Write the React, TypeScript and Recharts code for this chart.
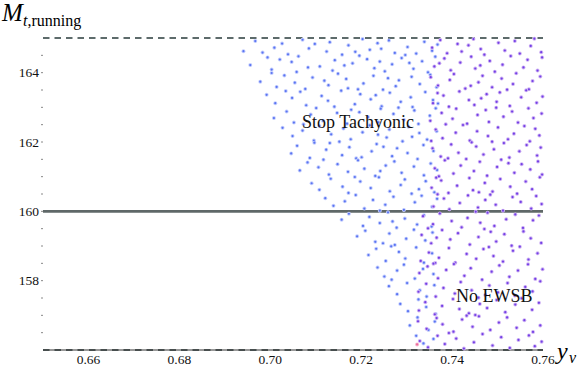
import { ScatterChart, Scatter, XAxis, YAxis, ReferenceLine } from 'recharts'

// y_nu vs running top mass; blue = stop tachyonic, purple = no EWSB
const xTicks = [0.66, 0.68, 0.7, 0.72, 0.74, 0.76]
const yTicks = [156.5, 157, 157.5, 158, 158.5, 159, 159.5, 160, 160.5, 161, 161.5, 162, 162.5, 163, 163.5, 164, 164.5]
const yLabelled = [158, 160, 162, 164]
const dashedLevels = [156, 165]
const solidLevel = 160

const tachyonic: [number, number][] = [
  [.6941,164.62],[.6967,164.91],[.6983,164.58],[.7026,164.84],[.7039,164.53],[.7071,164.95],[.7085,164.70],[.7124,164.61],[.7131,164.88],[.7172,164.79],[.7158,164.52],[.7203,164.97],[.7219,164.66],[.7236,164.85],[.7274,164.57],[.7261,164.93],[.7302,164.74],[.7297,164.51],[.7339,164.89],[.7356,164.63],[.7368,164.81],[.7009,164.72],[.7098,164.83],[.7187,164.60],[.7321,164.55],[.7244,164.69],
  [.6956,164.22],[.6994,164.44],[.7003,164.09],[.7047,164.31],[.7058,164.02],[.7062,164.47],[.7109,164.18],[.7142,164.36],[.7137,164.06],[.7181,164.27],[.7196,164.49],[.7229,164.13],[.7213,164.39],[.7268,164.24],[.7252,164.04],[.7289,164.42],[.7315,164.11],[.7334,164.33],[.7347,164.01],[.7363,164.46],[.7021,164.38],[.7083,164.15],[.7163,164.21],[.7241,164.32],[.7306,164.28],
  [.6978,163.74],[.7014,163.59],[.7031,163.92],[.7054,163.71],[.7077,163.53],[.7093,163.86],[.7128,163.64],[.7149,163.97],[.7171,163.55],[.7167,163.82],[.7205,163.69],[.7227,163.91],[.7248,163.51],[.7283,163.78],[.7276,163.61],[.7311,163.88],[.7329,163.67],[.7352,163.94],[.7366,163.58],[.7003,163.99],[.7119,163.77],[.7193,163.52],[.7259,163.84],
  [.6992,163.36],[.7011,163.12],[.7048,163.27],[.7066,163.45],[.7079,163.06],[.7113,163.33],[.7127,163.19],[.7156,163.48],[.7186,163.09],[.7198,163.38],[.7221,163.23],[.7245,163.03],[.7263,163.42],[.7287,163.16],[.7309,163.29],[.7313,163.01],[.7341,163.44],[.7358,163.21],[.7034,163.47],[.7141,163.02],[.7232,163.35],[.7369,163.11],
  [.7008,162.69],[.7036,162.88],[.7052,162.56],[.7089,162.79],[.7101,162.98],[.7116,162.61],[.7147,162.84],[.7169,162.53],[.7178,162.93],[.7215,162.72],[.7238,162.57],[.7243,162.96],[.7271,162.81],[.7294,162.64],[.7317,162.91],[.7326,162.52],[.7351,162.76],[.7364,162.97],[.7073,162.51],[.7196,162.86],[.7282,162.99],
  [.7027,162.41],[.7049,162.17],[.7071,162.33],[.7096,162.04],[.7108,162.46],[.7134,162.22],[.7161,162.39],[.7177,162.08],[.7203,162.28],[.7219,162.48],[.7256,162.13],[.7262,162.36],[.7291,162.02],[.7304,162.44],[.7328,162.26],[.7345,162.07],[.7366,162.31],[.7152,162.01],[.7237,162.21],[.7312,162.15],
  [.7046,161.67],[.7059,161.89],[.7087,161.54],[.7123,161.78],[.7131,161.97],[.7158,161.62],[.7174,161.85],[.7201,161.56],[.7223,161.73],[.7234,161.94],[.7268,161.59],[.7279,161.82],[.7302,161.68],[.7324,161.51],[.7337,161.91],[.7359,161.74],[.7097,161.98],[.7189,161.53],[.7249,161.86],
  [.7065,161.18],[.7082,161.41],[.7106,161.27],[.7129,161.06],[.7148,161.36],[.7171,161.14],[.7193,161.47],[.7207,161.23],[.7231,161.02],[.7254,161.32],[.7273,161.44],[.7289,161.11],[.7316,161.29],[.7338,161.04],[.7353,161.38],[.7367,161.19],[.7117,161.49],[.7242,161.16],
  [.7091,160.81],[.7108,160.62],[.7133,160.94],[.7159,160.71],[.7172,160.53],[.7198,160.86],[.7221,160.67],[.7239,160.98],[.7263,160.58],[.7287,160.76],[.7296,160.92],[.7327,160.64],[.7342,160.87],[.7361,160.55],[.7186,160.99],[.7311,160.51],
  [.7121,160.38],[.7139,160.16],[.7164,160.29],[.7188,160.47],[.7207,160.08],[.7226,160.33],[.7253,160.19],[.7271,160.42],[.7294,160.04],[.7318,160.26],[.7333,160.45],[.7356,160.13],[.7367,160.36],[.7241,160.02],
  [.7157,159.76],[.7173,159.93],[.7204,159.58],[.7218,159.84],[.7241,159.66],[.7259,159.97],[.7278,159.53],[.7296,159.79],[.7323,159.62],[.7338,159.89],[.7355,159.56],[.7269,159.71],
  [.7191,159.28],[.7209,159.44],[.7231,159.12],[.7262,159.36],[.7274,159.03],[.7299,159.21],[.7316,159.47],[.7341,159.16],[.7357,159.39],[.7248,159.08],
  [.7216,158.74],[.7233,158.92],[.7254,158.57],[.7283,158.83],[.7297,158.64],[.7321,158.96],[.7338,158.52],[.7356,158.79],[.7266,158.99],
  [.7236,158.38],[.7251,158.12],[.7279,158.29],[.7294,158.46],[.7318,158.06],[.7336,158.34],[.7359,158.19],[.7267,158.03],
  [.7261,157.84],[.7279,157.61],[.7301,157.93],[.7329,157.72],[.7344,157.54],[.7361,157.87],
  [.7286,157.33],[.7303,157.12],[.7326,157.46],[.7343,157.24],[.7364,157.04],
  [.7307,156.71],[.7324,156.94],[.7348,156.58],[.7362,156.82],
  [.7321,156.41],[.7337,156.19],[.7359,156.32],
]

const noEwsb: [number, number][] = [
  [.7356,164.72],[.7374,164.94],[.7389,164.56],[.7412,164.83],[.7421,164.61],[.7447,164.97],[.7463,164.68],[.7471,164.52],[.7502,164.86],[.7516,164.64],[.7538,164.91],[.7549,164.55],[.7573,164.77],[.7581,164.98],[.7596,164.59],[.7436,164.79],
  [.7361,164.18],[.7383,164.41],[.7397,164.07],[.7418,164.29],[.7442,164.46],[.7451,164.12],[.7483,164.34],[.7494,164.03],[.7511,164.23],[.7529,164.48],[.7557,164.15],[.7566,164.37],[.7588,164.06],[.7598,164.44],[.7372,164.27],[.7462,164.21],
  [.7353,163.87],[.7369,163.63],[.7395,163.79],[.7404,163.96],[.7429,163.54],[.7458,163.72],[.7467,163.91],[.7488,163.58],[.7509,163.83],[.7534,163.67],[.7541,163.98],[.7569,163.52],[.7577,163.76],[.7594,163.89],[.7441,163.62],[.7521,163.51],
  [.7358,163.12],[.7381,163.34],[.7393,163.02],[.7416,163.46],[.7437,163.21],[.7449,163.07],[.7476,163.38],[.7498,163.16],[.7505,163.43],[.7527,163.04],[.7552,163.29],[.7563,163.49],[.7586,163.13],[.7599,163.31],[.7368,163.41],[.7464,163.26],
  [.7352,162.61],[.7377,162.84],[.7401,162.67],[.7409,162.96],[.7433,162.53],[.7456,162.78],[.7474,162.92],[.7481,162.58],[.7513,162.73],[.7532,162.88],[.7545,162.56],[.7568,162.97],[.7579,162.69],[.7597,162.82],[.7386,162.51],[.7497,162.99],
  [.7364,162.36],[.7379,162.11],[.7408,162.27],[.7424,162.49],[.7439,162.04],[.7455,162.31],[.7479,162.17],[.7501,162.42],[.7523,162.08],[.7536,162.24],[.7559,162.46],[.7571,162.02],[.7592,162.19],[.7354,162.03],[.7488,162.01],[.7583,162.38],
  [.7357,161.82],[.7375,161.58],[.7398,161.93],[.7414,161.69],[.7431,161.51],[.7453,161.87],[.7469,161.64],[.7492,161.79],[.7514,161.97],[.7526,161.55],[.7548,161.73],[.7564,161.91],[.7587,161.61],[.7595,161.84],[.7443,161.99],[.7391,161.53],
  [.7362,161.24],[.7384,161.47],[.7403,161.09],[.7419,161.32],[.7448,161.16],[.7461,161.43],[.7477,161.03],[.7499,161.28],[.7508,161.49],[.7537,161.11],[.7553,161.36],[.7572,161.21],[.7589,161.44],[.7598,161.06],[.7371,161.01],[.7524,161.39],
  [.7355,160.68],[.7376,160.89],[.7392,160.53],[.7411,160.74],[.7438,160.96],[.7446,160.61],[.7472,160.82],[.7489,160.57],[.7506,160.93],[.7528,160.71],[.7543,160.51],[.7562,160.86],[.7576,160.64],[.7593,160.98],[.7365,160.97],[.7459,160.55],
  [.7359,160.14],[.7382,160.37],[.7394,160.06],[.7417,160.24],[.7435,160.46],[.7457,160.11],[.7473,160.33],[.7496,160.19],[.7512,160.02],[.7533,160.41],[.7551,160.27],[.7574,160.08],[.7585,160.44],[.7597,160.21],[.7368,160.49],[.7484,160.48],
  [.7336,159.86],[.7358,159.63],[.7373,159.94],[.7399,159.72],[.7421,159.54],[.7434,159.81],[.7462,159.67],[.7478,159.96],[.7493,159.58],[.7519,159.77],[.7539,159.91],[.7556,159.52],[.7578,159.74],[.7591,159.88],[.7347,159.51],[.7452,159.99],
  [.7333,159.32],[.7354,159.08],[.7378,159.46],[.7396,159.19],[.7413,159.37],[.7439,159.04],[.7458,159.26],[.7471,159.49],[.7497,159.13],[.7515,159.34],[.7531,159.01],[.7557,159.42],[.7573,159.22],[.7596,159.09],[.7366,159.24],[.7485,159.41],
  [.7331,158.57],[.7349,158.81],[.7371,158.66],[.7393,158.94],[.7407,158.52],[.7432,158.77],[.7453,158.63],[.7469,158.91],[.7491,158.71],[.7512,158.55],[.7534,158.86],[.7549,158.98],[.7568,158.61],[.7588,158.79],[.7363,158.51],[.7481,158.97],
  [.7328,158.22],[.7346,158.41],[.7369,158.07],[.7387,158.31],[.7404,158.48],[.7427,158.14],[.7441,158.36],[.7466,158.03],[.7487,158.26],[.7504,158.44],[.7526,158.11],[.7545,158.29],[.7567,158.47],[.7583,158.05],[.7599,158.33],[.7359,158.49],
  [.7326,157.68],[.7343,157.91],[.7364,157.54],[.7381,157.79],[.7406,157.63],[.7419,157.96],[.7443,157.72],[.7458,157.51],[.7482,157.86],[.7501,157.66],[.7522,157.93],[.7538,157.57],[.7561,157.82],[.7577,157.69],[.7594,157.98],[.7473,157.59],
  [.7327,157.14],[.7341,157.38],[.7362,157.03],[.7378,157.27],[.7402,157.47],[.7416,157.18],[.7437,157.06],[.7461,157.33],[.7477,157.21],[.7498,157.44],[.7517,157.09],[.7539,157.31],[.7553,157.49],[.7576,157.16],[.7591,157.36],[.7451,157.01],
  [.7325,156.83],[.7344,156.61],[.7366,156.92],[.7379,156.74],[.7403,156.53],[.7422,156.88],[.7445,156.67],[.7459,156.97],[.7484,156.58],[.7503,156.79],[.7521,156.94],[.7542,156.64],[.7559,156.86],[.7578,156.52],[.7594,156.71],[.7432,156.99],
  [.7329,156.26],[.7347,156.08],[.7368,156.41],[.7384,156.17],[.7409,156.33],[.7426,156.04],[.7448,156.22],[.7467,156.46],[.7489,156.13],[.7508,156.37],[.7527,156.06],[.7546,156.29],[.7569,156.42],[.7582,156.11],[.7597,156.24],[.7393,156.49],
]

const stray: [number, number][] = [[.7323, 156.16]]

const toPts = (arr: [number, number][]) => arr.map(([x, y]) => ({ x, y }))

const serif = 'Liberation Serif'

function dot(halo: string, core: string) {
  return (p: any) => (
    <g>
      <circle cx={p.cx} cy={p.cy} r={2} fill={halo} />
      <circle cx={p.cx} cy={p.cy} r={1.1} fill={core} />
    </g>
  )
}

export default function App() {
  return (
    <div style={{ position: 'absolute', left: 0, top: 0, width: 581, height: 368, background: '#fff', fontFamily: serif }}>
      <ScatterChart width={581} height={368} margin={{ top: 38, right: 38, bottom: 0, left: 0 }}>
        <XAxis
          type="number"
          dataKey="x"
          domain={[0.65, 0.76]}
          ticks={xTicks}
          interval={0}
          tickFormatter={(v: number) => v.toFixed(2)}
          tickLine={false}
          tickSize={1}
          tickMargin={3}
          height={18}
          axisLine={{ stroke: '#333' }}
          tick={{ fontSize: 13.5, fill: '#111', fontFamily: serif }}
        />
        <YAxis
          type="number"
          dataKey="y"
          domain={[156, 165]}
          ticks={yTicks}
          interval={0}
          width={43}
          axisLine={false}
          tickSize={2}
          tickMargin={2}
          tickLine={{ stroke: '#888' }}
          tickFormatter={(v: number) => (yLabelled.includes(v) ? String(v) : '')}
          tick={{ fontSize: 13.5, fill: '#111', fontFamily: serif }}
        />
        <ReferenceLine y={solidLevel} stroke="#5f6868" strokeWidth={2.6} />
        {dashedLevels.map((lv) => (
          <ReferenceLine key={lv} y={lv} stroke="#5d6b6b" strokeWidth={2.2} strokeDasharray="6.5 5" />
        ))}
        <Scatter data={toPts(tachyonic)} shape={dot('#c4cefd', '#5a74f2')} isAnimationActive={false} />
        <Scatter data={toPts(noEwsb)} shape={dot('#cfb3f3', '#7340e6')} isAnimationActive={false} />
        <Scatter data={toPts(stray)} shape={dot('#f6b8d0', '#ee6a9a')} isAnimationActive={false} />
      </ScatterChart>
      <svg width={581} height={368} style={{ position: 'absolute', left: 0, top: 0, pointerEvents: 'none' }}>
        <text x={2} y={21} fontFamily={serif} fontSize={25} fontStyle="italic" fill="#000">M</text>
        <text x={23} y={26} fontFamily={serif} fontSize={16} fill="#000">
          <tspan fontStyle="italic">t</tspan>
          <tspan>,running</tspan>
        </text>
        <text x={302} y={128} fontFamily={serif} fontSize={18} fill="#111">Stop Tachyonic</text>
        <text x={456} y={302} fontFamily={serif} fontSize={18} fill="#111">No EWSB</text>
        <text x={557} y={359} fontFamily={serif} fontSize={24} fontStyle="italic" fill="#000">y</text>
        <text x={569} y={363} fontFamily={serif} fontSize={16} fontStyle="italic" fill="#000">ν</text>
      </svg>
    </div>
  )
}
